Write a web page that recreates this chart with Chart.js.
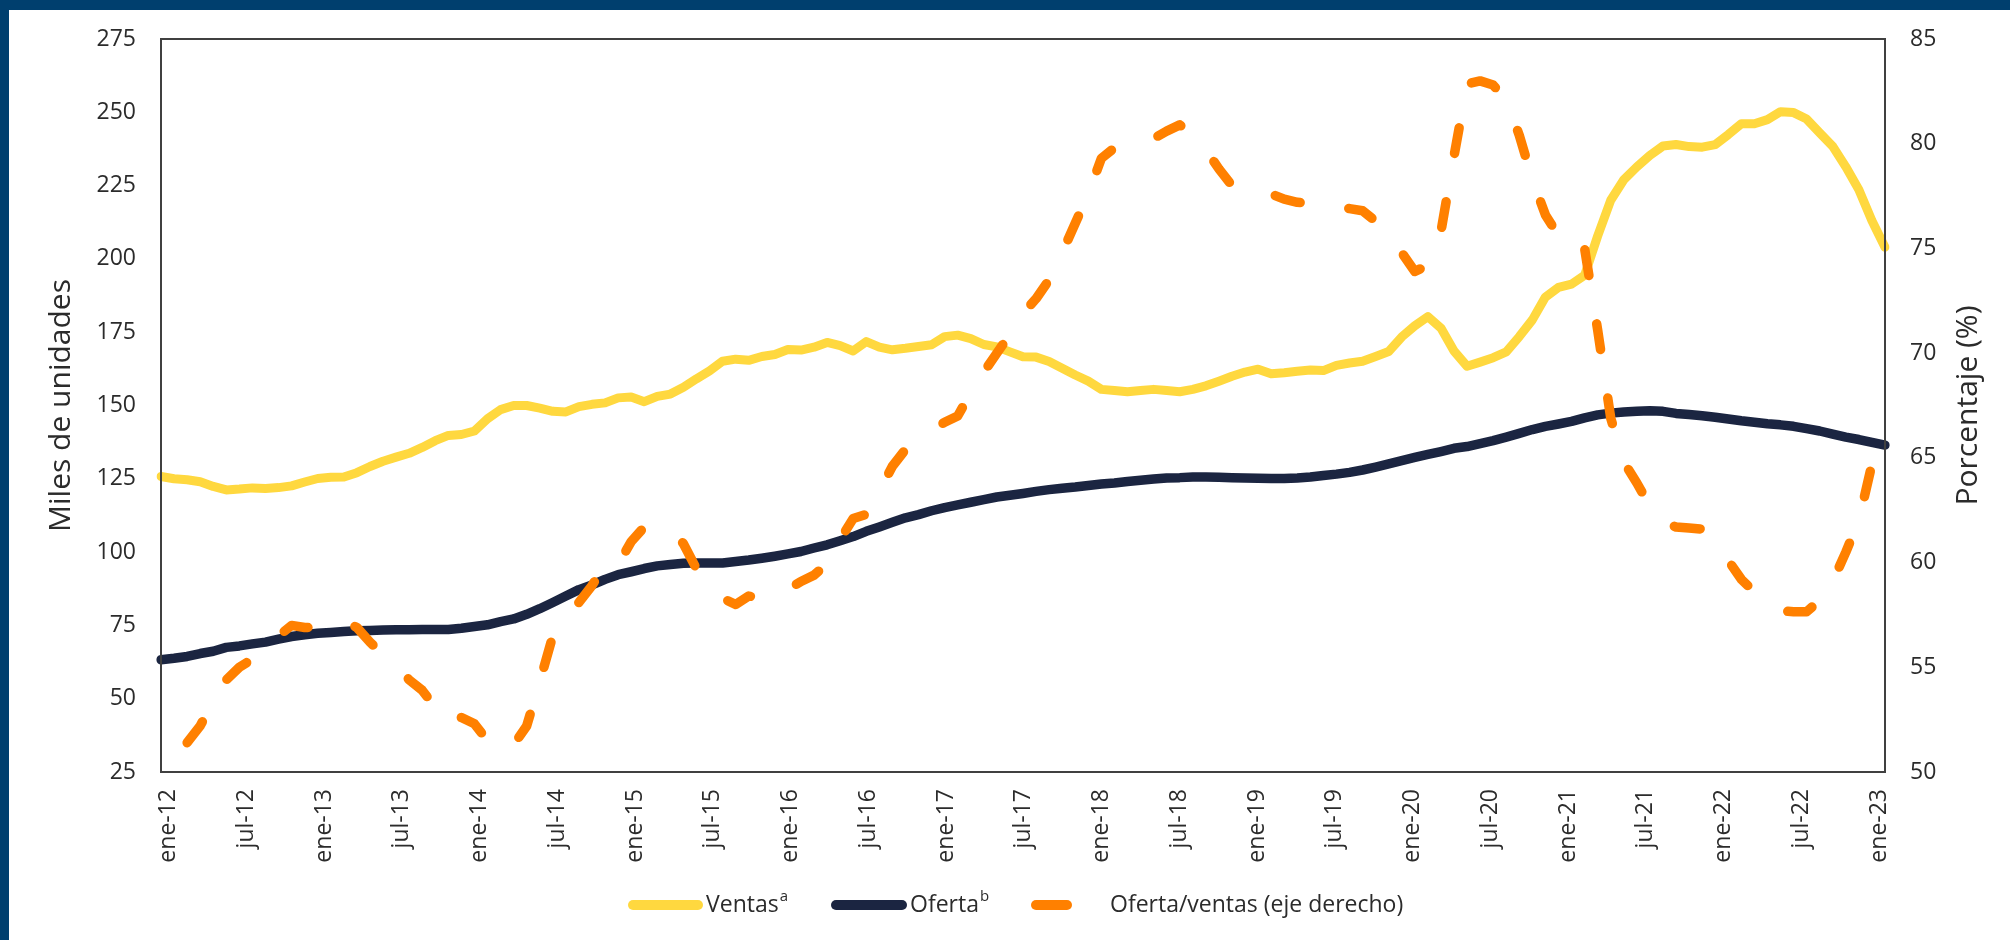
<!DOCTYPE html>
<html>
<head>
<meta charset="utf-8">
<script src="https://cdn.jsdelivr.net/npm/chart.js@4.4.0/dist/chart.umd.min.js"></script>
<style>
  html, body { margin: 0; padding: 0; background: #fff; }
  #wrap { width: 2010px; height: 940px; }
</style>
</head>
<body>
<div id="wrap"><canvas id="myChart" width="2010" height="940"></canvas></div>
<script>
// monthly series, ene-12 .. ene-23
const monthNames = ['ene', 'feb', 'mar', 'abr', 'may', 'jun', 'jul', 'ago', 'sep', 'oct', 'nov', 'dic'];
const tickLabels = ['ene-12', 'jul-12', 'ene-13', 'jul-13', 'ene-14', 'jul-14', 'ene-15', 'jul-15', 'ene-16', 'jul-16',
    'ene-17', 'jul-17', 'ene-18', 'jul-18', 'ene-19', 'jul-19', 'ene-20', 'jul-20', 'ene-21', 'jul-21',
    'ene-22', 'jul-22', 'ene-23'];

const ventas = [
    125.8, 125.0, 124.7, 124.0, 122.4, 121.2, 121.5, 121.9, 121.7, 122.0,
    122.6, 123.9, 125.1, 125.5, 125.6, 127.1, 129.2, 131.0, 132.4, 133.7,
    135.7, 138.0, 139.8, 140.1, 141.3, 145.5, 148.6, 150.0, 150.0, 149.1,
    148.0, 147.8, 149.6, 150.4, 150.9, 152.6, 152.9, 151.3, 153.1, 153.9,
    156.2, 159.1, 161.8, 165.1, 165.8, 165.4, 166.7, 167.4, 169.1, 168.9,
    169.9, 171.5, 170.4, 168.6, 171.8, 169.9, 169.0, 169.5, 170.1, 170.7,
    173.5, 174.0, 172.8, 170.8, 170.0, 168.3, 166.6, 166.5, 165.0, 162.7,
    160.4, 158.3, 155.5, 155.1, 154.7, 155.1, 155.5, 155.1, 154.7, 155.5,
    156.7, 158.3, 160.0, 161.4, 162.4, 160.8, 161.2, 161.7, 162.1, 161.9,
    163.7, 164.5, 165.1, 166.7, 168.4, 173.4, 177.2, 180.3, 176.4, 168.6,
    163.4, 164.8, 166.3, 168.3, 173.5, 179.2, 187.0, 190.3, 191.4, 194.4,
    207.8, 220.0, 227.0, 231.4, 235.3, 238.5, 239.0, 238.3, 238.1, 239.0,
    242.4, 246.1, 246.1, 247.5, 250.2, 249.9, 247.7, 243.0, 238.4, 231.4,
    223.6, 213.0, 204.0
];

const oferta = [
    63.3, 63.8, 64.4, 65.4, 66.2, 67.5, 68.0, 68.7, 69.3, 70.3,
    71.2, 71.8, 72.3, 72.6, 72.9, 73.2, 73.3, 73.4, 73.5, 73.5,
    73.6, 73.6, 73.6, 74.0, 74.6, 75.2, 76.3, 77.2, 78.8, 80.7,
    82.8, 85.0, 87.2, 88.8, 90.7, 92.3, 93.3, 94.4, 95.3, 95.8,
    96.2, 96.3, 96.3, 96.3, 96.8, 97.3, 97.9, 98.6, 99.4, 100.2,
    101.4, 102.5, 103.9, 105.3, 107.1, 108.6, 110.2, 111.7, 112.8, 114.1,
    115.2, 116.1, 117.0, 117.9, 118.8, 119.4, 120.0, 120.7, 121.3, 121.8,
    122.2, 122.7, 123.2, 123.6, 124.1, 124.5, 124.9, 125.3, 125.4, 125.6,
    125.6, 125.5, 125.4, 125.3, 125.2, 125.1, 125.1, 125.3, 125.6, 126.1,
    126.6, 127.2, 128.0, 129.0, 130.1, 131.2, 132.3, 133.3, 134.3, 135.4,
    136.0, 137.0, 138.0, 139.2, 140.5, 141.8, 142.9, 143.7, 144.6, 145.8,
    146.8, 147.4, 147.8, 148.0, 148.2, 148.0, 147.3, 146.9, 146.5, 146.0,
    145.4, 144.8, 144.3, 143.8, 143.4, 142.9, 142.1, 141.3, 140.2, 139.2,
    138.4, 137.4, 136.5
];

const ofertaVentas = [
    null, null, 51.4, 52.2, 53.4, 54.4, 55.0, 55.4, 55.9, 56.5,
    57.0, 56.9, 56.9, 57.1, 57.2, 56.9, 56.2, 55.6, 55.1, 54.4,
    53.9, 53.1, 52.3, 52.6, 52.3, 51.5, 51.05, 51.3, 52.2, 54.3,
    56.5, 57.4, 58.1, 58.9, 59.9, 59.9, 61.0, 61.7, 61.6, 61.6,
    60.9, 59.7, 58.8, 58.3, 58.0, 58.4, 58.3, 58.5, 58.7, 59.1,
    59.4, 59.95, 61.1, 62.1, 62.3, 63.4, 64.6, 65.4, 65.9, 66.3,
    66.7, 67.0, 68.1, 69.1, 70.0, 70.9, 71.9, 72.6, 73.5, 74.8,
    76.2, 77.6, 79.3, 79.8, 79.95, 80.1, 80.25, 80.6, 80.9, 80.4,
    79.7, 78.8, 78.0, 77.8, 77.6, 77.6, 77.35, 77.2, 77.15, 77.05,
    77.0, 76.9, 76.8, 76.3, 75.8, 74.8, 73.9, 74.2, 75.8, 79.4,
    82.85, 83.0, 82.8, 82.1, 80.4, 78.3, 76.6, 75.6, 75.8, 75.0,
    71.1, 66.9, 64.8, 63.8, 62.7, 61.95, 61.7, 61.65, 61.6, 61.0,
    60.1, 59.2, 58.6, 58.0, 57.7, 57.65, 57.65, 58.2, 59.1, 60.5,
    62.0, 64.7, 66.3
];

const seriesNames = ['Ventas', 'Oferta', 'Oferta/ventas (eje derecho)'];
const seriesSup = ['a', 'b', ''];

const categories = [];
for (let y = 12; y <= 23; y++) {
    for (let m = 0; m < 12; m++) {
        if (y === 23 && m > 0) break;
        categories.push(monthNames[m] + '-' + y);
    }
}

const YELLOW = '#FFD83F';
const NAVY = '#1B2541';
const ORANGE = '#FF8000';
const FRAME = '#003F6E';
const TEXT = '#2b2b2b';
const FONT = "'Open Sans', 'Noto Sans', sans-serif";

const decor = {
    id: 'decor',
    beforeDraw(chart) {
        const c = chart.ctx;
        c.save();
        c.fillStyle = '#ffffff';
        c.fillRect(0, 0, chart.width, chart.height);
        c.fillStyle = FRAME;
        c.fillRect(0, 0, chart.width, 10);
        c.fillRect(0, 0, 9, chart.height);
        c.restore();
    },
    afterDraw(chart) {
        const c = chart.ctx;
        const a = chart.chartArea;
        c.save();
        // plot area box
        c.strokeStyle = '#404040';
        c.lineWidth = 2;
        c.strokeRect(a.left, a.top, a.right - a.left, a.bottom - a.top);

        // right axis title, reads bottom to top
        c.fillStyle = TEXT;
        c.font = '30px ' + FONT;
        c.textAlign = 'center';
        c.textBaseline = 'middle';
        c.translate(1968, (a.top + a.bottom) / 2);
        c.rotate(-Math.PI / 2);
        c.fillText('Porcentaje (%)', 0, 0);
        c.restore();

        // legend
        const ly = 905;
        const items = [
            { x0: 633, x1: 698, tx: 706, color: YELLOW },
            { x0: 836, x1: 902, tx: 910, color: NAVY },
            { x0: 1036, x1: 1067, tx: 1110, color: ORANGE }
        ];
        c.save();
        c.lineCap = 'round';
        c.lineWidth = 10;
        c.textBaseline = 'middle';
        c.textAlign = 'left';
        items.forEach((it, k) => {
            c.strokeStyle = it.color;
            c.beginPath();
            c.moveTo(it.x0, ly);
            c.lineTo(it.x1, ly);
            c.stroke();
            c.fillStyle = TEXT;
            c.font = '23px ' + FONT;
            c.fillText(seriesNames[k], it.tx, ly);
            if (seriesSup[k]) {
                const w = c.measureText(seriesNames[k]).width;
                c.font = '15px ' + FONT;
                c.fillText(seriesSup[k], it.tx + w + 1, ly - 8);
            }
        });
        c.restore();
    }
};

const ctx = document.getElementById('myChart');
new Chart(ctx, {
    type: 'line',
    data: {
        labels: categories,
        datasets: [
            {
                label: seriesNames[0],
                data: ventas,
                borderColor: YELLOW,
                borderWidth: 9,
                xAxisID: 'x',
                yAxisID: 'y',
                order: 2
            },
            {
                label: seriesNames[1],
                data: oferta,
                borderColor: NAVY,
                borderWidth: 9.5,
                xAxisID: 'x',
                yAxisID: 'y',
                order: 1
            },
            {
                label: seriesNames[2],
                data: ofertaVentas,
                borderColor: ORANGE,
                borderWidth: 9.5,
                borderDash: [26, 49],
                xAxisID: 'x',
                yAxisID: 'y1',
                order: 0
            }
        ]
    },
    options: {
        responsive: false,
        animation: false,
        devicePixelRatio: 1,
        layout: { padding: { top: 39, left: 0, right: 0, bottom: 0 } },
        elements: {
            point: { radius: 0 },
            line: { tension: 0, borderCapStyle: 'round', borderJoinStyle: 'round', fill: false }
        },
        plugins: {
            legend: { display: false },
            tooltip: { enabled: false }
        },
        scales: {
            x: { type: 'category', display: false },
            xl: {
                type: 'linear',
                position: 'bottom',
                min: -0.58,
                max: 132.46,
                afterBuildTicks: s => { s.ticks = tickLabels.map((t, k) => ({ value: k * 6 })); },
                afterFit: s => { s.height = 168; },
                grid: { display: false, drawTicks: false },
                border: { display: false },
                ticks: {
                    autoSkip: false,
                    minRotation: 90,
                    maxRotation: 90,
                    padding: 17,
                    color: TEXT,
                    font: { family: FONT, size: 23 },
                    callback: (v, k) => tickLabels[k]
                }
            },
            y: {
                position: 'left',
                min: 25,
                max: 275,
                afterFit: s => { s.width = 161; },
                grid: { display: false, drawTicks: false },
                border: { display: false },
                ticks: { stepSize: 25, padding: 25, color: TEXT, font: { family: FONT, size: 23 } },
                title: {
                    display: true,
                    text: 'Miles de unidades',
                    color: TEXT,
                    font: { family: FONT, size: 30 },
                    padding: { top: 43, bottom: 0 }
                }
            },
            y1: {
                position: 'right',
                min: 50,
                max: 85,
                afterFit: s => { s.width = 125; },
                grid: { display: false, drawTicks: false },
                border: { display: false },
                ticks: { stepSize: 5, padding: 25, color: TEXT, font: { family: FONT, size: 23 } }
            }
        }
    },
    plugins: [decor]
});
</script>
</body>
</html>
